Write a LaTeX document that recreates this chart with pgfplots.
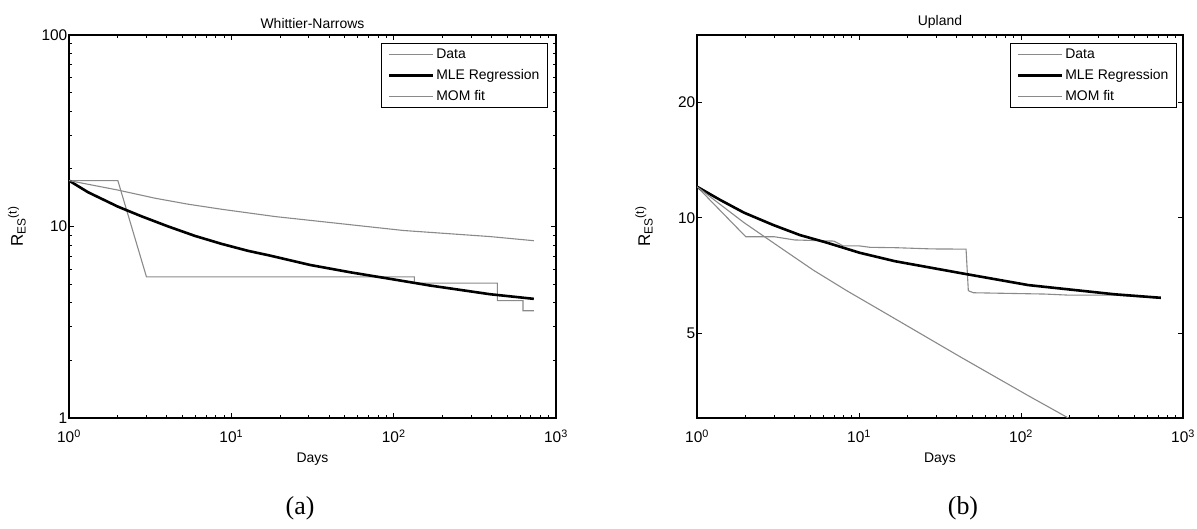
\documentclass[border=0pt]{standalone}
\usepackage{fontspec}
\setmainfont{Liberation Sans}
\newfontfamily\timesfont{Liberation Serif}
\usepackage{pgfplots}
\pgfplotsset{compat=1.18}
\definecolor{lg}{RGB}{138,138,138}
\begin{document}
\fontsize{14}{16}\selectfont
\begin{tikzpicture}
\useasboundingbox (0,0) rectangle (1197bp,529bp);
\begin{axis}[at={(69bp,111bp)}, anchor=south west, width=487bp, height=383bp,
    xmode=log, ymode=log, scale only axis,
    xmin=1, xmax=1000,
    xtick={1,10,100,1000},
    xticklabels={10\textsuperscript{0},10\textsuperscript{1},10\textsuperscript{2},10\textsuperscript{3}},
    minor xtick={2,3,4,5,6,7,8,9,20,30,40,50,60,70,80,90,200,300,400,500,600,700,800,900},
    tick align=inside, tick pos=both,
    major tick length=5bp, minor tick length=3bp,
    tick style={black, line width=0.8bp},
    axis line style={line width=1.2bp},
    ticklabel style={font=\fontsize{15.5}{17}\selectfont},
    xlabel=Days, ylabel={R\textsubscript{ES}\textsuperscript{(t)}},
    xlabel style={at={(axis description cs:0.5,0)},anchor=center,yshift=-41bp},
    ylabel style={at={(axis description cs:-0.107,0.5)},anchor=center,font=\fontsize{17}{19}\selectfont},
    xticklabel style={yshift=-7bp},
    yticklabel style={inner sep=1.5bp},
    title style={yshift=-4bp},
    legend style={at={(1,1)},anchor=north east,xshift=-8bp,yshift=-8bp,draw=black,line width=1.2bp,
      row sep=5bp,inner xsep=6bp,inner ysep=3bp},
    legend image code/.code={\draw[#1] (0bp,0bp) -- (44bp,0bp);},
    legend cell align=left,
  ymin=1, ymax=100, ytick={1,10,100}, yticklabels={1,10,100},
  minor ytick={2,3,4,5,6,7,8,9,20,30,40,50,60,70,80,90},
  title={Whittier-Narrows}]
\addplot[lg, line width=1.1bp] coordinates {
(1,17.37) (2,17.37) (3,5.46) (134,5.46) (134,5.06) (435,5.06) (435,4.10) (626,4.10) (626,3.63) (730,3.63)};
\addlegendentry{Data}
\addplot[black, line width=2.6bp] coordinates {
(1,17.37) (1.31,15.1) (2,12.7) (2.80,11.3) (4.09,10.0) (5.97,8.93) (8.73,8.11) (12.7,7.46) (17.3,7.05)
(30.5,6.30) (53.8,5.77) (94.9,5.33) (167,4.92) (392,4.43) (730,4.19)};
\addlegendentry{MLE Regression}
\addplot[lg, line width=1.1bp] coordinates {
(1,17.37) (2,15.5) (3.39,14.05) (5.43,13.07) (8.73,12.3) (18.6,11.27) (44.6,10.4) (115,9.53) (392,8.86) (730,8.43)};
\addlegendentry{MOM fit}
\end{axis}
\begin{axis}[at={(697bp,111bp)}, anchor=south west, width=486bp, height=383bp,
    xmode=log, ymode=log, scale only axis,
    xmin=1, xmax=1000,
    xtick={1,10,100,1000},
    xticklabels={10\textsuperscript{0},10\textsuperscript{1},10\textsuperscript{2},10\textsuperscript{3}},
    minor xtick={2,3,4,5,6,7,8,9,20,30,40,50,60,70,80,90,200,300,400,500,600,700,800,900},
    tick align=inside, tick pos=both,
    major tick length=5bp, minor tick length=3bp,
    tick style={black, line width=0.8bp},
    axis line style={line width=1.2bp},
    ticklabel style={font=\fontsize{15.5}{17}\selectfont},
    xlabel=Days, ylabel={R\textsubscript{ES}\textsuperscript{(t)}},
    xlabel style={at={(axis description cs:0.5,0)},anchor=center,yshift=-41bp},
    ylabel style={at={(axis description cs:-0.109,0.5)},anchor=center,font=\fontsize{17}{19}\selectfont},
    xticklabel style={yshift=-7bp},
    yticklabel style={inner sep=1.5bp},
    title style={yshift=-4bp},
    legend style={at={(1,1)},anchor=north east,xshift=-6bp,yshift=-8bp,draw=black,line width=1.2bp,
      row sep=5bp,inner xsep=6bp,inner ysep=3bp},
    legend image code/.code={\draw[#1] (0bp,0bp) -- (44bp,0bp);},
    legend cell align=left,
  ymin=3, ymax=30, ytick={5,10,20}, yticklabels={5,10,20},
  title={Upland}]
\addplot[lg, line width=1.1bp] coordinates {
(1,12.05) (2,8.92) (3,8.92) (4,8.75) (7,8.69) (8,8.44) (10.1,8.44) (11.7,8.37) (17.1,8.35) (28.1,8.29) (45.8,8.28)
(47.3,6.45) (50.8,6.37) (141,6.32) (196,6.28) (380,6.28) (730,6.16)};
\addlegendentry{Data}
\addplot[black, line width=2.6bp] coordinates {
(1,12.05) (1.39,11.13) (1.95,10.31) (2.96,9.57) (4.32,9.01) (6.32,8.61) (10.1,8.10) (16.7,7.70)
(43.1,7.16) (111,6.67) (380,6.31) (730,6.18)};
\addlegendentry{MLE Regression}
\addplot[lg, line width=1.1bp] coordinates {
(1,12.05) (1.95,9.71) (3.25,8.37) (5.22,7.30) (8.40,6.45) (13.5,5.74) (43.1,4.31) (111,3.43) (196,3.0)};
\addlegendentry{MOM fit}
\end{axis}
\node[font=\timesfont\fontsize{26}{30}\selectfont] at (300bp,21bp) {(a)};
\node[font=\timesfont\fontsize{26}{30}\selectfont] at (963bp,21bp) {(b)};
\end{tikzpicture}
\end{document}
